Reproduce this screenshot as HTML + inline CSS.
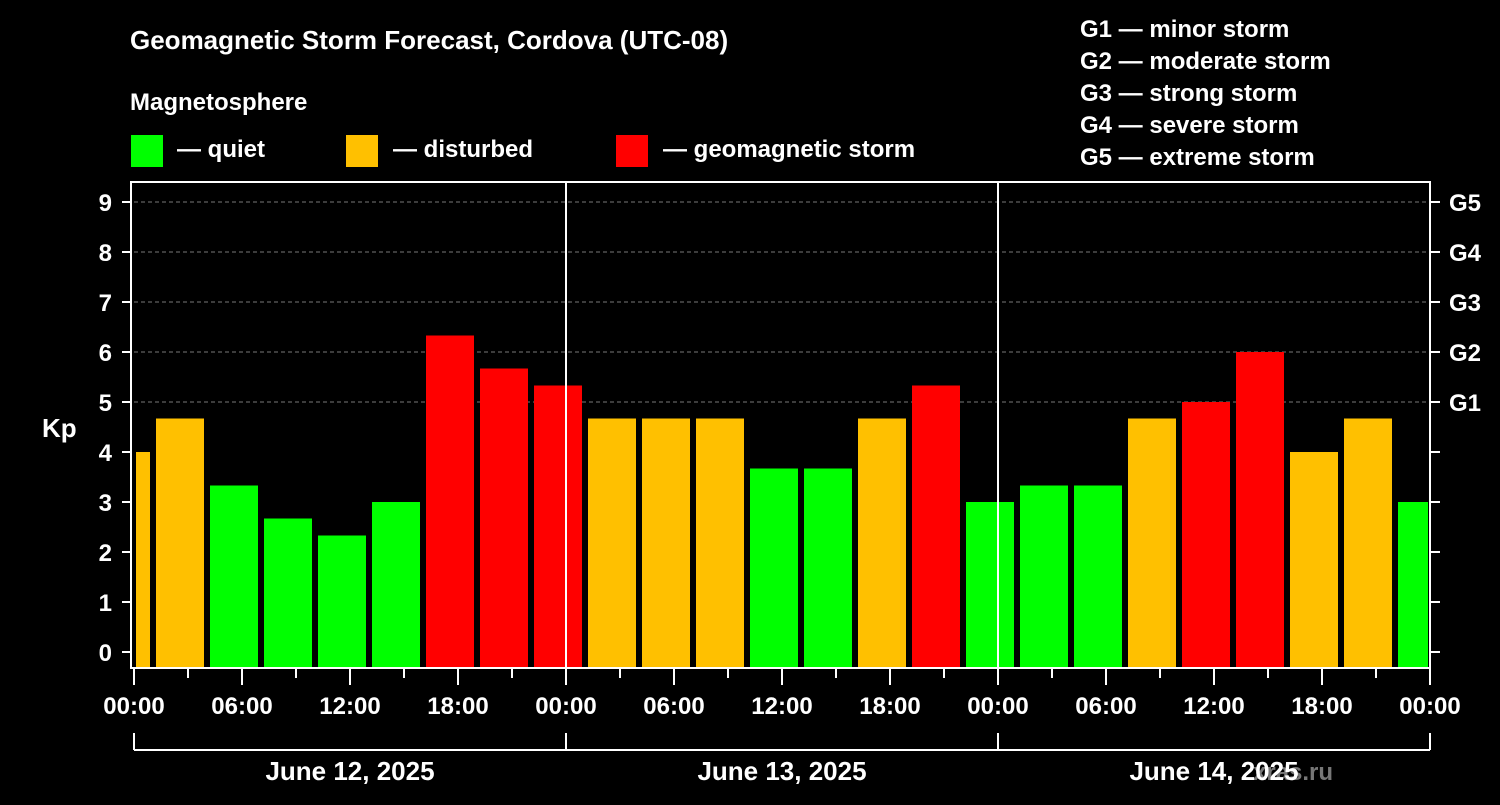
<!DOCTYPE html>
<html><head><meta charset="utf-8"><style>
body{margin:0;background:#000;}
svg text{font-family:"Liberation Sans",Arial,sans-serif;font-weight:bold;fill:#fff;}
</style></head><body>
<svg id="c" width="1500" height="800" xmlns="http://www.w3.org/2000/svg">
<rect width="1500" height="800" fill="#000"/>
<text x="130" y="49" font-size="26">Geomagnetic Storm Forecast, Cordova (UTC-08)</text>
<text x="130" y="110" font-size="24">Magnetosphere</text>
<g><rect x="131" y="135" width="32" height="32" fill="#00ff00"/><text x="177" y="157" font-size="24">— quiet</text></g>
<g><rect x="346" y="135" width="32" height="32" fill="#ffc000"/><text x="393" y="157" font-size="24">— disturbed</text></g>
<g><rect x="616" y="135" width="32" height="32" fill="#ff0000"/><text x="663" y="157" font-size="24">— geomagnetic storm</text></g>
<g font-size="24">
<text x="1080" y="37">G1 — minor storm</text><text x="1080" y="69">G2 — moderate storm</text><text x="1080" y="101">G3 — strong storm</text><text x="1080" y="133">G4 — severe storm</text><text x="1080" y="165">G5 — extreme storm</text></g>
<text x="42" y="437" font-size="26">Kp</text>
<text x="1253" y="780" font-size="24" fill="#888" style="fill:#777">xras.ru</text>
<g id="grid"></g><g id="bars"></g><g id="axes"></g>
</svg>
<script>
const kpValues=[4.0,4.67,3.33,2.67,2.33,3.0,6.33,5.67,5.33,4.67,4.67,4.67,3.67,3.67,4.67,5.33,3.0,3.33,3.33,4.67,5.0,6.0,4.0,4.67,3.0];
const firstStartHour=-2; // local hour of first interval start
const dayLabels=["June 12, 2025","June 13, 2025","June 14, 2025"];
const gLabels=["G1","G2","G3","G4","G5"];
const yTicks=[0,1,2,3,4,5,6,7,8,9];
const timeLabels=["00:00","06:00","12:00","18:00"];
const NS="http://www.w3.org/2000/svg";
const L=134,R=1430,T=182,B=668;
const xs=h=>L+h*18, ys=v=>652-v*50;
function mk(tag,attrs,parent,text){const e=document.createElementNS(NS,tag);for(const k in attrs)e.setAttribute(k,attrs[k]);if(text!==undefined)e.textContent=text;document.getElementById(parent).appendChild(e);return e;}
// grid
[5,6,7,8,9].forEach(v=>{const e=mk('line',{x1:L,x2:R,y1:ys(v),y2:ys(v),stroke:'#777','stroke-dasharray':'4,3'},'grid');

});
// bars
kpValues.forEach((v,i)=>{const h0=firstStartHour+i*3;let x0=xs(h0)+4,x1=xs(h0+3)-2;x0=Math.max(x0,L+2);x1=Math.min(x1,R-2);
const col=v>=5?'#ff0000':(v>=4?'#ffc000':'#00ff00');
const e=mk('rect',{x:x0,y:ys(v),width:x1-x0,height:B-ys(v),fill:col},'bars');

});
// frame
let f=mk('rect',{x:131,y:T,width:R-131,height:B-T,fill:'none',stroke:'#fff','stroke-width':2},'axes');


[1,2].forEach(d=>{const e=mk('line',{x1:xs(d*24),x2:xs(d*24),y1:T,y2:B,stroke:'#fff','stroke-width':2},'axes');

});
yTicks.forEach(v=>{mk('line',{x1:122,x2:131,y1:ys(v),y2:ys(v),stroke:'#fff','stroke-width':2},'axes');
mk('line',{x1:R,x2:R+10,y1:ys(v),y2:ys(v),stroke:'#fff','stroke-width':2},'axes');
const t=mk('text',{x:112,y:ys(v)+9,'font-size':24,'text-anchor':'end'},'axes',v);

});
gLabels.forEach((g,i)=>{const t=mk('text',{x:1449,y:ys(5+i)+9,'font-size':24},'axes',g);

});
for(let h=0;h<=72;h+=3){const major=h%6===0;mk('line',{x1:xs(h),x2:xs(h),y1:B,y2:B+(major?17:10),stroke:'#fff','stroke-width':2},'axes');
if(major){const t=mk('text',{x:xs(h),y:714,'font-size':24,'text-anchor':'middle'},'axes',timeLabels[(h/6)%4]);

}}
mk('line',{x1:L,x2:R,y1:750,y2:750,stroke:'#fff','stroke-width':2},'axes');
for(let d=0;d<=3;d++)mk('line',{x1:xs(d*24),x2:xs(d*24),y1:733,y2:750,stroke:'#fff','stroke-width':2},'axes');
dayLabels.forEach((s,d)=>{const t=mk('text',{x:xs(d*24+12),y:780,'font-size':26,'text-anchor':'middle'},'axes',s);

});
</script>
</body></html>
